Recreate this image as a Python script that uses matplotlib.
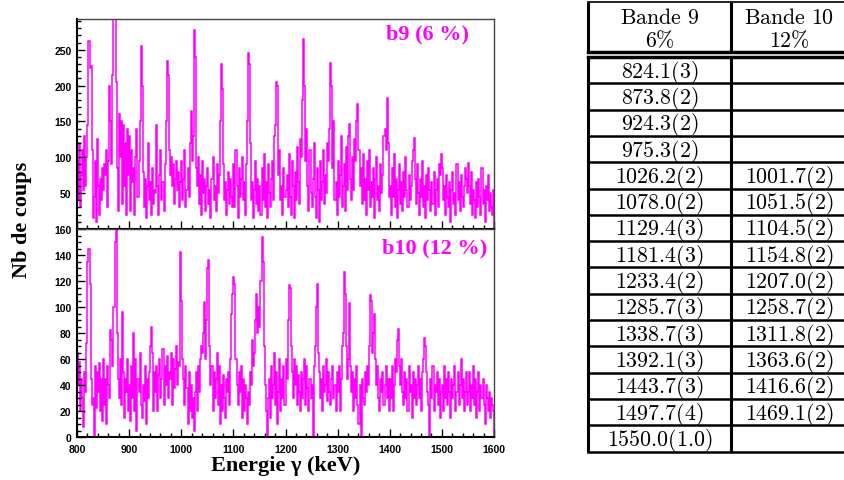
import numpy as np
import matplotlib
matplotlib.use("Agg")
import matplotlib.pyplot as plt
from matplotlib.ticker import MultipleLocator

# spectra, 2 keV bins from 800 to 1600 keV (one row = 50 keV)
e_min, e_max, bin_w = 800, 1600, 2

b9_counts = [
    95, 40, 120, 30, 75, 110, 55, 130, 60, 100, 145, 262, 225, 228, 110, 15, 45, 95, 10, 125, 60, 20, 70, 40, 85,
    55, 90, 75, 110, 30, 95, 200, 150, 90, 215, 300, 300, 205, 85, 25, 160, 100, 150, 35, 145, 60, 120, 20, 140, 75,
    130, 25, 110, 65, 85, 20, 100, 140, 45, 95, 150, 255, 200, 80, 30, 70, 15, 60, 120, 40, 65, 20, 85, 35, 55,
    50, 145, 60, 20, 75, 110, 40, 65, 25, 90, 150, 235, 215, 110, 75, 100, 60, 90, 35, 70, 95, 55, 80, 30, 65,
    95, 40, 70, 110, 30, 55, 85, 45, 120, 165, 95, 130, 278, 240, 85, 60, 100, 35, 75, 20, 95, 50, 70, 25, 60,
    85, 35, 55, 15, 70, 100, 40, 60, 25, 90, 50, 75, 150, 230, 195, 90, 40, 65, 20, 55, 80, 35, 70, 45, 30,
    90, 30, 110, 60, 15, 85, 45, 70, 100, 40, 65, 20, 90, 150, 245, 230, 120, 40, 65, 15, 55, 95, 35, 70, 25,
    60, 20, 85, 40, 105, 30, 65, 15, 90, 50, 30, 70, 95, 40, 130, 145, 205, 200, 75, 110, 40, 60, 20, 85, 45,
    55, 75, 30, 105, 45, 20, 95, 60, 15, 80, 40, 115, 65, 35, 125, 100, 180, 265, 200, 95, 140, 60, 25, 110, 50,
    30, 70, 120, 45, 15, 85, 55, 10, 95, 40, 65, 110, 35, 75, 50, 120, 95, 140, 232, 200, 85, 150, 40, 65, 20,
    95, 45, 75, 130, 30, 60, 90, 25, 115, 55, 130, 147, 70, 40, 100, 55, 125, 95, 150, 175, 110, 60, 85, 35, 105,
    40, 70, 20, 95, 55, 110, 30, 65, 45, 85, 15, 70, 100, 40, 60, 25, 90, 50, 75, 130, 140, 110, 183, 120, 45,
    60, 20, 85, 45, 105, 30, 70, 15, 55, 90, 35, 65, 25, 80, 45, 100, 55, 30, 75, 40, 60, 95, 110, 127, 70,
    35, 90, 50, 20, 70, 45, 95, 30, 60, 15, 75, 40, 85, 55, 25, 65, 35, 80, 20, 55, 70, 30, 90, 75, 104,
    85, 40, 60, 20, 75, 45, 30, 65, 10, 55, 80, 35, 50, 20, 90, 40, 65, 25, 75, 45, 30, 60, 85, 70, 50,
    92, 60, 35, 80, 20, 55, 40, 15, 65, 30, 70, 45, 20, 85, 35, 55, 10, 60, 40, 75, 25, 50, 30, 20, 55,
]

b10_counts = [
    65, 40, 58, 20, 45, 30, 8, 50, 35, 72, 135, 145, 118, 45, 25, 30, 0, 55, 22, 50, 35, 57, 20, 45, 12,
    60, 25, 45, 10, 55, 40, 30, 82, 75, 55, 100, 150, 160, 80, 45, 30, 60, 25, 96, 50, 15, 45, 35, 60, 20,
    40, 12, 55, 30, 80, 20, 60, 5, 45, 35, 65, 25, 15, 40, 28, 55, 10, 45, 30, 50, 70, 85, 65, 20, 50,
    35, 55, 20, 48, 60, 30, 45, 68, 25, 55, 40, 62, 30, 50, 45, 65, 25, 60, 38, 52, 70, 40, 58, 55, 142,
    105, 60, 45, 25, 55, 38, 10, 50, 20, 40, 15, 30, 5, 35, 50, 20, 55, 35, 60, 70, 65, 80, 104, 60, 90,
    130, 136, 70, 40, 55, 20, 50, 30, 45, 65, 25, 55, 10, 40, 20, 48, 30, 15, 45, 35, 50, 25, 60, 95, 110,
    123, 118, 60, 40, 25, 50, 35, 55, 15, 45, 20, 40, 30, 10, 35, 25, 50, 40, 75, 55, 65, 90, 110, 80, 100,
    85, 120, 154, 135, 70, 40, 20, 0, 30, 45, 15, 55, 30, 40, 65, 25, 50, 10, 35, 60, 20, 45, 30, 55, 25,
    60, 45, 90, 117, 115, 70, 50, 30, 60, 40, 55, 25, 48, 35, 20, 50, 30, 45, 60, 25, 55, 38, 20, 45, 30,
    40, 0, 55, 70, 100, 118, 65, 50, 30, 45, 20, 55, 35, 40, 60, 28, 50, 35, 25, 45, 55, 30, 40, 20, 50,
    35, 55, 20, 45, 70, 80, 127, 110, 70, 45, 60, 103, 55, 35, 50, 20, 45, 30, 55, 25, 10, 40, 0, 45, 30,
    25, 50, 35, 55, 40, 70, 109, 105, 65, 80, 95, 60, 40, 55, 30, 20, 45, 35, 50, 25, 40, 55, 30, 45, 20,
    45, 30, 55, 20, 40, 60, 50, 75, 83, 55, 40, 60, 35, 25, 50, 30, 45, 20, 55, 35, 40, 15, 50, 30, 45,
    25, 40, 55, 30, 45, 20, 50, 60, 76, 70, 50, 35, 25, 0, 45, 30, 55, 20, 40, 35, 50, 25, 45, 15, 35,
    40, 20, 55, 30, 45, 25, 50, 35, 15, 45, 30, 40, 55, 20, 35, 50, 25, 40, 60, 30, 45, 20, 35, 50, 25,
    35, 50, 20, 40, 30, 55, 25, 45, 15, 35, 50, 20, 40, 30, 45, 25, 10, 40, 30, 20, 35, 15, 30, 25, 20,
]

# table of transition energies (keV)
col_headers = [("Bande 9", "6%"), ("Bande 10", "12%")]
band9_E = ["824.1(3)", "873.8(2)", "924.3(2)", "975.3(2)", "1026.2(2)", "1078.0(2)",
           "1129.4(3)", "1181.4(3)", "1233.4(2)", "1285.7(3)", "1338.7(3)", "1392.1(3)",
           "1443.7(3)", "1497.7(4)", "1550.0(1.0)"]
band10_E = ["", "", "", "", "1001.7(2)", "1051.5(2)", "1104.5(2)", "1154.8(2)",
            "1207.0(2)", "1258.7(2)", "1311.8(2)", "1363.6(2)", "1416.6(2)", "1469.1(2)", ""]

MAG = "#ff00ff"
W, H = 845, 481
plt.rcParams['mathtext.fontset'] = 'cm'

fig = plt.figure(figsize=(W / 100, H / 100), dpi=100)

edges = np.arange(e_min, e_max + bin_w, bin_w)

def px_axes(x0, y0, x1, y1):
    return fig.add_axes([x0 / W, 1 - y1 / H, (x1 - x0) / W, (y1 - y0) / H])

def bold_ticklabels(ax):
    for lab in ax.get_xticklabels() + ax.get_yticklabels():
        lab.set_fontfamily('Liberation Sans')
        lab.set_fontweight('bold')
        lab.set_fontsize(7.5)

def style_panel(ax, ymax, ymajor, yminor, show_x):
    ax.set_xlim(e_min, e_max)
    ax.set_ylim(0, ymax)
    ax.xaxis.set_major_locator(MultipleLocator(100))
    ax.xaxis.set_minor_locator(MultipleLocator(20))
    ax.yaxis.set_major_locator(MultipleLocator(ymajor))
    ax.yaxis.set_minor_locator(MultipleLocator(yminor))
    ax.tick_params(which='both', direction='in', top=False, right=False, width=1.0)
    ax.tick_params(which='major', length=6)
    ax.tick_params(which='minor', length=3)
    ax.tick_params(axis='y', pad=4)
    ax.tick_params(axis='x', pad=5)
    for s in ['left', 'bottom']:
        ax.spines[s].set_linewidth(1.5)
    for s in ['top', 'right']:
        ax.spines[s].set_linewidth(1.0)
        ax.spines[s].set_color('#444444')
    if not show_x:
        ax.set_xticklabels([])

# top panel (band 9)
ax1 = px_axes(77, 20, 494, 230)
ax1.stairs(b9_counts, edges, color=MAG, lw=1.1)
style_panel(ax1, 293, 50, 10, False)
ax1.set_yticks([50, 100, 150, 200, 250])
bold_ticklabels(ax1)
ax1.text(0.94, 0.93, "b9 (6 %)", transform=ax1.transAxes, ha='right', va='center',
         color=MAG, fontsize=16, fontweight='bold', family='Liberation Serif')

# bottom panel (band 10)
ax2 = px_axes(77, 230, 494, 438)
ax2.stairs(b10_counts, edges, color=MAG, lw=1.1)
style_panel(ax2, 160, 20, 5, True)
bold_ticklabels(ax2)
ax2.text(0.985, 0.91, "b10 (12 %)", transform=ax2.transAxes, ha='right', va='center',
         color=MAG, fontsize=16, fontweight='bold', family='Liberation Serif')
ax2.set_xlabel("Energie \u03b3 (keV)", fontsize=16, fontweight='bold',
               family='Liberation Serif', labelpad=1)

fig.text(22 / W, 1 - 220 / H, "Nb de coups", rotation=90, ha='center', va='center',
         fontsize=16, fontweight='bold', family='Liberation Serif')

# table drawn in pixel coordinates
axt = fig.add_axes([0, 0, 1, 1])
axt.set_xlim(0, W)
axt.set_ylim(H, 0)
axt.axis('off')

x_left, x_mid, x_right = 588, 731, 848
head_top, head_bot = 3, 53
body_top, row_h = 58, 26.3
n_rows = len(band9_E)
body_bot = body_top + n_rows * row_h

for x in [x_left, x_mid, x_right]:
    axt.plot([x, x], [head_top, head_bot], color='black', lw=2.2, solid_capstyle='butt')
    axt.plot([x, x], [body_top, body_bot], color='black', lw=2.2, solid_capstyle='butt')
axt.plot([x_left, x_right], [head_top, head_top], color='black', lw=1.2)
axt.plot([x_left, x_right], [head_bot, head_bot], color='black', lw=2.5)
axt.plot([x_left, x_right], [body_top, body_top], color='black', lw=2.5)
for i in range(1, n_rows + 1):
    y = body_top + i * row_h
    axt.plot([x_left, x_right], [y, y], color='black', lw=1.8)

fs_tab = 15.8
col_cx = [(x_left + x_mid) / 2, (x_mid + 845) / 2 + 1]
for cx, (h1, h2) in zip(col_cx, col_headers):
    axt.text(cx, 18, r"$\mathrm{%s}$" % h1.replace(" ", r"\ "), ha='center', va='center', fontsize=fs_tab)
    axt.text(cx, 40, r"$\mathrm{%s}$" % h2.replace("%", r"\%"), ha='center', va='center', fontsize=fs_tab)

for i, (a, b) in enumerate(zip(band9_E, band10_E)):
    yc = body_top + (i + 0.5) * row_h + 1
    if a:
        axt.text(col_cx[0], yc, r"$\mathrm{%s}$" % a, ha='center', va='center', fontsize=fs_tab)
    if b:
        axt.text(col_cx[1], yc, r"$\mathrm{%s}$" % b, ha='center', va='center', fontsize=fs_tab)

fig.savefig("out.png", dpi=100)
